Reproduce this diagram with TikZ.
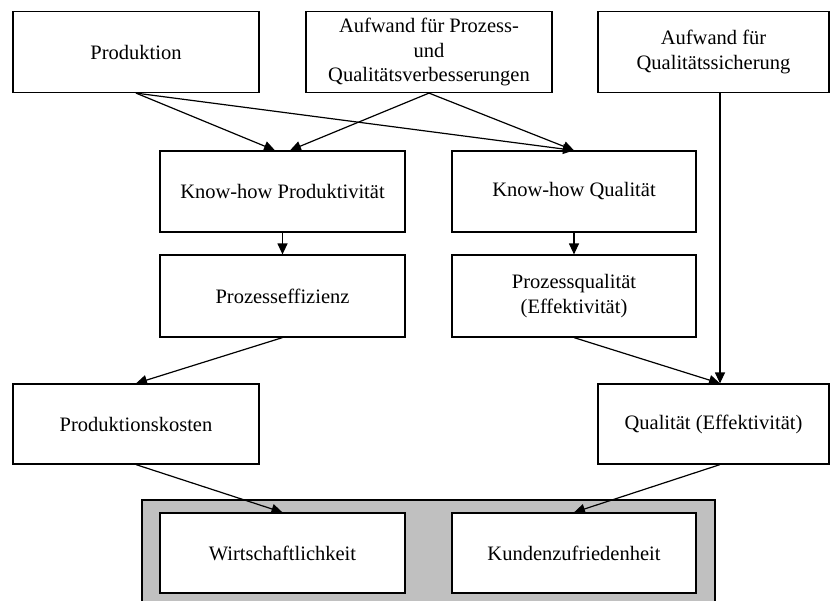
\documentclass[tikz,border=0pt]{standalone}
\usepackage{fontspec}
\setmainfont{Liberation Serif}
\usetikzlibrary{arrows.meta}
\definecolor{panel}{RGB}{192,192,192}
\begin{document}
\begin{tikzpicture}[x=1pt,y=1pt,
  box/.style={draw=black, line width=1.2pt, fill=white, inner sep=0pt,
    align=center, minimum height=81pt,
    font=\fontsize{20.5}{24.5}\selectfont},
  link/.style={line width=1.2pt, -{Triangle[length=11pt,width=10pt]}}]
\useasboundingbox (0,0) rectangle (830,-600);
% grey frame around the two target figures
\begin{scope}
  \clip (0,0) rectangle (830,-600);
  \draw[line width=1.2pt, fill=panel] (142,-500) rectangle (715,-612);
\end{scope}
% top row: inputs
\node[box, minimum width=246pt] (prod) at (136,-52) {Produktion};
\node[box, minimum width=246pt] (aufp) at (429,-52) {Aufwand für Prozess-\\und\\Qualitätsverbesserungen};
\node[box, minimum width=231pt] (aufq) at (713.5,-52) {Aufwand für\\Qualitätssicherung};
% know-how
\node[box, minimum width=245pt] (khp) at (282.5,-191.5) {Know-how Produktivität};
\node[box, minimum width=244pt] (khq) at (574,-191.5) {Know-how Qualität};
% process level
\node[box, minimum width=245pt, minimum height=82pt] (pe) at (282.5,-296) {Prozesseffizienz};
\node[box, minimum width=244pt, minimum height=82pt] (pq) at (574,-296) {Prozessqualität\\(Effektivität)};
% results
\node[box, minimum width=246pt, minimum height=80pt] (pk) at (136,-424) {Produktionskosten};
\node[box, minimum width=231pt, minimum height=80pt] (qe) at (713.5,-424) {Qualität (Effektivität)};
% goals
\node[box, minimum width=245pt, minimum height=80pt] (wi) at (282.5,-553) {Wirtschaftlichkeit};
\node[box, minimum width=244pt, minimum height=80pt] (ku) at (574,-553) {Kundenzufriedenheit};
% connectors
\draw[link] (prod.south) -- ([xshift=-7.5pt]khp.north);
\draw[link] (prod.south) -- (khq.north);
\draw[link] (aufp.south) -- ([xshift=7.5pt]khp.north);
\draw[link] (aufp.south) -- (khq.north);
\draw[link] ([xshift=6.5pt]aufq.south) -- ([xshift=6.5pt]qe.north);
\draw[link] (khp.south) -- (pe.north);
\draw[link] (khq.south) -- (pq.north);
\draw[link] (pe.south) -- (pk.north);
\draw[link] (pq.south) -- ([xshift=6.5pt]qe.north);
\draw[link] (pk.south) -- (wi.north);
\draw[link] ([xshift=6.5pt]qe.south) -- (ku.north);
\end{tikzpicture}
\end{document}
